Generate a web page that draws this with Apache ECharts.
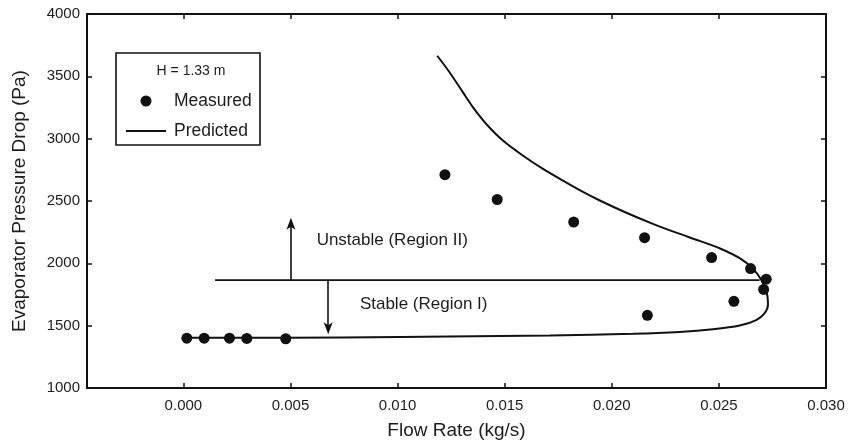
<!DOCTYPE html>
<html>
<head>
<meta charset="utf-8">
<script src="https://cdn.jsdelivr.net/npm/echarts@6/dist/echarts.min.js"></script>
<style>html,body{margin:0;padding:0;background:#fff;}#c{width:848px;height:445px;}</style>
</head>
<body>
<div id="c"></div>
<script>
// ---- data ----
const measuredX = [0.00016, 0.00097, 0.00215, 0.00296, 0.00478, 0.01221, 0.01465, 0.01822, 0.02153, 0.02466, 0.02648, 0.02721, 0.02709, 0.02570, 0.02166];
const measuredY = [1400, 1400, 1400, 1398, 1395, 2711, 2512, 2331, 2206, 2046, 1958, 1873, 1791, 1695, 1583];
const predictedX = [0.01185, 0.01244, 0.01306, 0.01353, 0.01415, 0.01493, 0.01586, 0.01679, 0.01772, 0.01850, 0.01944, 0.02068, 0.02192, 0.02301, 0.02410, 0.02503, 0.02597, 0.02659, 0.02698, 0.02724, 0.02729, 0.02713, 0.02674, 0.02597, 0.02472, 0.02317, 0.02098, 0.01710, 0.01011, 0.00478, 0.00016];
const predictedY = [3665, 3529, 3369, 3249, 3116, 2983, 2863, 2757, 2663, 2587, 2504, 2406, 2317, 2246, 2180, 2121, 2041, 1957, 1866, 1759, 1665, 1599, 1545, 1501, 1471, 1450, 1435, 1421, 1409, 1403, 1403];
const boundaryX = [0.00148, 0.0269];
const boundaryY = [1865, 1865];
const upArrow = {x: 0.00502, from: 1865, to: 2318};
const downArrow = {x: 0.00676, from: 1865, to: 1479};
const annotations = [
  {text: 'Unstable (Region II)', x: 0.00622, y: 2184},
  {text: 'Stable (Region I)', x: 0.00824, y: 1673}
];
const xTicks = [0.000, 0.005, 0.010, 0.015, 0.020, 0.025, 0.030];
const yTicks = [1000, 1500, 2000, 2500, 3000, 3500, 4000];
const xLabel = 'Flow Rate (kg/s)';
const yLabel = 'Evaporator Pressure Drop (Pa)';
const legendTitle = 'H = 1.33 m';

// ---- chart ----
const FONT = '"Liberation Sans", Arial, Helvetica, sans-serif';
const INK = '#111';
const TXT = '#1c1c1c';
const chart = echarts.init(document.getElementById('c'), null, {renderer: 'canvas'});
const zip = (a, b) => a.map((v, i) => [v, b[i]]);
const axisLineStyle = {color: INK, width: 2};
const arrowPath = 'path://M0,0 L5,12 L0,9 L-5,12 Z';

const option = {
  animation: false,
  backgroundColor: '#fff',
  textStyle: {fontFamily: FONT},
  grid: {left: 87, right: 22, top: 14, bottom: 55, containLabel: false},
  xAxis: [{
    type: 'value', min: -0.0045, max: 0.030,
    name: xLabel, nameLocation: 'middle', nameGap: 33,
    nameTextStyle: {fontFamily: FONT, fontSize: 19, color: TXT},
    axisLine: {show: true, onZero: false, lineStyle: axisLineStyle},
    axisTick: {show: true, inside: true, length: 5, lineStyle: {color: INK, width: 1.5}, customValues: xTicks},
    axisLabel: {show: true, customValues: xTicks, formatter: v => v.toFixed(3), fontFamily: FONT, fontSize: 15, color: TXT, margin: 10},
    splitLine: {show: false}
  }, {
    type: 'value', position: 'top', min: -0.0045, max: 0.030,
    axisLine: {show: true, onZero: false, lineStyle: axisLineStyle},
    axisTick: {show: true, inside: true, length: 5, lineStyle: {color: INK, width: 1.5}, customValues: xTicks},
    axisLabel: {show: false, customValues: xTicks},
    splitLine: {show: false}
  }],
  yAxis: [{
    type: 'value', min: 1000, max: 4000, interval: 500,
    name: yLabel, nameLocation: 'middle', nameGap: 58, nameRotate: 90,
    nameTextStyle: {fontFamily: FONT, fontSize: 19, color: TXT},
    axisLine: {show: true, onZero: false, lineStyle: axisLineStyle},
    axisTick: {show: true, inside: true, length: 5, lineStyle: {color: INK, width: 1.5}, customValues: yTicks},
    axisLabel: {show: true, customValues: yTicks, formatter: v => String(v), fontFamily: FONT, fontSize: 15, color: TXT, margin: 7},
    splitLine: {show: false}
  }, {
    type: 'value', position: 'right', min: 1000, max: 4000, interval: 500,
    axisLine: {show: true, onZero: false, lineStyle: axisLineStyle},
    axisTick: {show: true, inside: true, length: 5, lineStyle: {color: INK, width: 1.5}, customValues: yTicks},
    axisLabel: {show: false},
    splitLine: {show: false}
  }],
  legend: {
    orient: 'vertical', left: 126, top: 92, padding: 0,
    itemWidth: 40, itemHeight: 11, itemGap: 12,
    selectedMode: false,
    textStyle: {fontFamily: FONT, fontSize: 17.5, color: TXT, padding: [0, 0, 0, 3]},
    data: [
      {name: 'Measured', icon: 'circle', itemStyle: {color: INK, opacity: 1}},
      {name: 'Predicted', icon: 'path://M0,0 L40,0 L40,2 L0,2 Z', itemStyle: {color: INK, opacity: 1}}
    ]
  },
  graphic: [
    {type: 'rect', shape: {x: 116, y: 53, width: 144, height: 92}, style: {fill: 'none', stroke: INK, lineWidth: 1.6}, z: 100},
    {type: 'text', x: 191, y: 71, style: {text: legendTitle, font: '14px ' + FONT, fill: TXT, align: 'center', verticalAlign: 'middle'}, z: 100}
  ],
  series: [
    {
      name: 'Predicted', type: 'line', data: zip(predictedX, predictedY),
      smooth: 0.3, showSymbol: false, symbol: 'none',
      lineStyle: {color: INK, width: 2}, itemStyle: {color: INK}, z: 3
    },
    {
      name: 'Measured', type: 'scatter', data: zip(measuredX, measuredY),
      symbol: 'circle', symbolSize: 11, itemStyle: {color: INK, opacity: 1}, z: 4
    },
    {
      name: 'boundary', type: 'line', data: zip(boundaryX, boundaryY),
      showSymbol: false, symbol: 'none', lineStyle: {color: INK, width: 1.6}, z: 2,
      markLine: {
        silent: true, symbol: ['none', arrowPath], symbolSize: [9, 12],
        lineStyle: {color: INK, width: 1.6, type: 'solid'}, label: {show: false},
        data: [
          [{coord: [upArrow.x, upArrow.from]}, {coord: [upArrow.x, upArrow.to]}],
          [{coord: [downArrow.x, downArrow.from]}, {coord: [downArrow.x, downArrow.to]}]
        ]
      }
    },
    {
      name: 'annotations', type: 'scatter', symbolSize: 0, silent: true,
      itemStyle: {opacity: 1},
      data: annotations.map(a => ({value: [a.x, a.y], name: a.text})),
      label: {show: true, position: [0, 0], align: 'left', verticalAlign: 'middle', formatter: p => p.name, fontFamily: FONT, fontSize: 17, color: TXT, opacity: 1},
      z: 5
    }
  ]
};
chart.setOption(option);
</script>
</body>
</html>
